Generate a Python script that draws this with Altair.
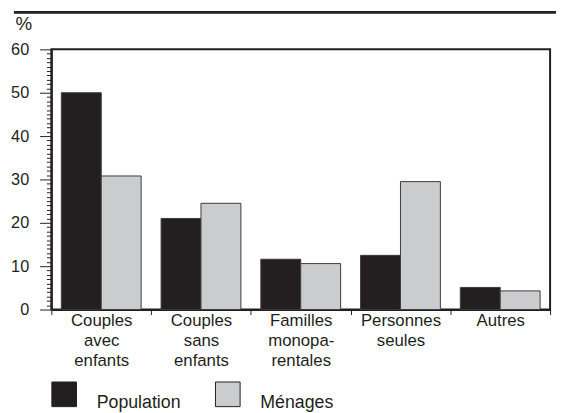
import altair as alt
import pandas as pd

categories = ["Couples\navec\nenfants", "Couples\nsans\nenfants", "Familles\nmonopa-\nrentales",
              "Personnes\nseules", "Autres"]
series = ["Population", "Ménages"]
population = [50.0, 21.0, 11.6, 12.5, 5.1]
menages = [30.8, 24.5, 10.6, 29.5, 4.3]
y_ticks = list(range(0, 61, 1))

rows = []
for c, p, m in zip(categories, population, menages):
    rows.append({"cat": c, "serie": "Population", "val": p})
    rows.append({"cat": c, "serie": "Ménages", "val": m})
df = pd.DataFrame(rows)

ink = "#231f20"
grey = "#cbccce"
font = "Liberation Sans"

x = alt.X("cat:N", sort=categories,
          scale=alt.Scale(paddingInner=0, paddingOuter=0),
          axis=alt.Axis(title=None, labelAngle=0, tickBand="extent",
                        labelExpr="split(datum.label, '\\n')",
                        labelFontSize=17, labelLineHeight=20, labelPadding=-1.5,
                        labelBaseline="top", tickSize=5, tickWidth=1,
                        tickColor=ink, domainColor=ink, domainWidth=2,
                        labelColor=ink, labelFont=font))
xo = alt.XOffset("serie:N", sort=series,
                 scale=alt.Scale(paddingOuter=0.25, paddingInner=0))
yscale = alt.Scale(domain=[0, 60], nice=False)

bars = alt.Chart(df).mark_bar(stroke="#3b3b3b", strokeWidth=1).encode(
    x=x, xOffset=xo,
    y=alt.Y("val:Q", scale=yscale,
            axis=alt.Axis(orient="left", values=y_ticks,
                          tickSize={"condition": {"test": "datum.value % 10 === 0", "value": 12},
                                    "value": 5},
                          labelExpr="datum.value % 10 === 0 ? datum.label : ''",
                          tickWidth=1, tickColor=ink, domainColor=ink, domainWidth=2,
                          labelFontSize=16.5, labelPadding=11, labelColor=ink, labelFont=font,
                          labelOverlap=False,
                          grid=False, title="%", titleAngle=0, titleX=-37, titleY=-20,
                          titleAlign="left", titleBaseline="alphabetic",
                          titleFontSize=19, titleFontWeight="normal",
                          titleFont=font, titleColor=ink)),
    color=alt.Color("serie:N", sort=series,
                    scale=alt.Scale(domain=series, range=[ink, grey]),
                    legend=alt.Legend(title=None, orient="none", legendX=0, legendY=337,
                                      direction="horizontal", symbolType="square",
                                      symbolSize=625, symbolStrokeColor=ink,
                                      symbolStrokeWidth=1, labelFontSize=18,
                                      labelOffset=20, columnPadding=32, padding=0,
                                      labelFont=font, labelColor=ink,
                                      labelBaseline="top"))
)

band = alt.Chart(pd.DataFrame({"k": [0]})).mark_rule(color=ink, strokeWidth=3).encode(
    x=alt.value(-38), x2=alt.value(512), y=alt.value(-37.5)
)

chart = alt.layer(band, bars).properties(
    width=506, height=264,
    autosize=alt.AutoSizeParams(type="none"),
    padding={"left": 44, "top": 39, "right": 6, "bottom": 102},
).configure_view(stroke=ink, strokeWidth=2)

chart.save("out.html", embed_options={"renderer": "svg", "actions": False})
